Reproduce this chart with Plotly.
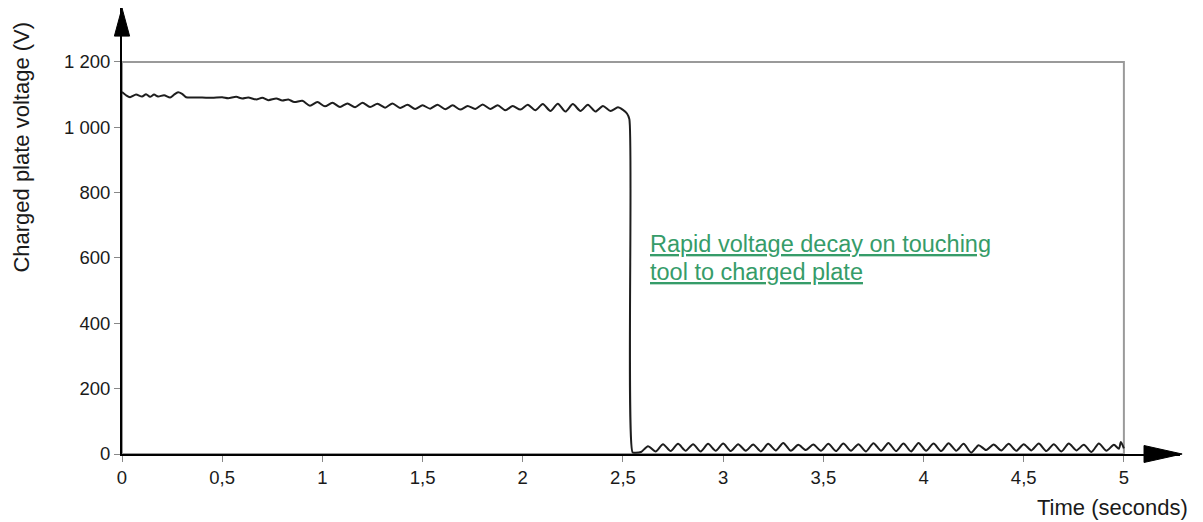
import plotly.graph_objects as go

# ---- data ----
time_s = [0.00, 0.02, 0.04, 0.07, 0.10, 0.12, 0.14, 0.16, 0.18, 0.21, 0.24, 0.26, 0.28, 0.30, 0.32,
          0.35, 0.40, 0.45, 0.50, 0.53, 0.57, 0.60, 0.63, 0.67, 0.70, 0.73, 0.77, 0.80, 0.83, 0.86,
          0.900, 0.938, 0.975, 1.013, 1.050, 1.088, 1.125, 1.163, 1.200, 1.238, 1.275, 1.313, 1.350,
          1.388, 1.425, 1.463, 1.500, 1.538, 1.575, 1.613, 1.650, 1.688, 1.725, 1.763, 1.800, 1.838,
          1.875, 1.913, 1.950, 1.988, 2.025, 2.063, 2.100, 2.138, 2.175, 2.213, 2.250, 2.288, 2.325,
          2.363, 2.400, 2.438, 2.475, 2.500, 2.520, 2.532, 2.548, 2.560, 2.590,
          2.625, 2.663, 2.700, 2.738, 2.775, 2.813, 2.850, 2.888, 2.925, 2.963, 3.000, 3.038, 3.075,
          3.113, 3.150, 3.188, 3.225, 3.263, 3.300, 3.338, 3.375, 3.413, 3.450, 3.488, 3.525, 3.563,
          3.600, 3.638, 3.675, 3.713, 3.750, 3.788, 3.825, 3.863, 3.900, 3.938, 3.975, 4.013, 4.050,
          4.088, 4.125, 4.163, 4.200, 4.238, 4.275, 4.313, 4.350, 4.388, 4.425, 4.463, 4.500, 4.538,
          4.575, 4.613, 4.650, 4.688, 4.725, 4.763, 4.800, 4.838, 4.875, 4.913, 4.950, 4.975, 4.985,
          5.000]
voltage_v = [1108, 1098, 1092, 1100, 1094, 1101, 1093, 1100, 1094, 1098, 1091, 1100, 1107, 1102, 1092,
             1091, 1091, 1090, 1092, 1089, 1093, 1088, 1091, 1085, 1090, 1083, 1088, 1082, 1085, 1077,
             1081, 1066, 1077, 1064, 1075, 1062, 1073, 1061, 1075, 1062, 1072, 1060, 1073,
             1059, 1069, 1056, 1067, 1057, 1069, 1055, 1067, 1054, 1065, 1056, 1070, 1056,
             1067, 1052, 1065, 1054, 1069, 1052, 1071, 1050, 1072, 1048, 1071, 1050, 1069,
             1048, 1065, 1050, 1061, 1053, 1042, 1025, 5, 4, 6,
             24, 8, 30, 9, 31, 10, 30, 8, 31, 10, 32, 9, 30,
             10, 29, 8, 31, 11, 34, 10, 28, 12, 29, 10, 31, 9,
             32, 10, 30, 8, 33, 10, 34, 9, 32, 8, 34, 10, 32,
             9, 33, 10, 31, 4, 27, 12, 29, 11, 31, 10, 30, 11,
             32, 9, 30, 8, 32, 11, 28, 6, 32, 10, 28, 16, 37,
             17]

x_ticks = [0, 0.5, 1, 1.5, 2, 2.5, 3, 3.5, 4, 4.5, 5]
x_tick_labels = ["0", "0,5", "1", "1,5", "2", "2,5", "3", "3,5", "4", "4,5", "5"]
y_ticks = [0, 200, 400, 600, 800, 1000, 1200]
y_tick_labels = ["0", "200", "400", "600", "800", "1 000", "1 200"]

FONT = "Liberation Sans, Arial, sans-serif"
GREEN = "#369c69"
TXT = "#1a1a1a"

fig = go.Figure()
fig.add_trace(go.Scatter(
    x=time_s, y=voltage_v, mode="lines",
    line=dict(color="#1e1e1e", width=2, shape="spline", smoothing=0.7),
    hoverinfo="x+y", showlegend=False,
))

# gray frame around the 0-5 s / 0-1200 V region
fig.add_shape(type="rect", xref="x", yref="y", x0=0, x1=5, y0=0, y1=1200,
              line=dict(color="#9a9a9a", width=2), layer="below")

# arrowheads on the axes (paper coordinates)
fig.add_shape(type="path", xref="paper", yref="paper",
              path="M 0.966,-0.019 L 1.002,0 L 0.966,0.019 Z",
              fillcolor="black", line=dict(color="black", width=1))
fig.add_shape(type="path", xref="paper", yref="paper",
              path="M -0.0072,0.937 L 0,1.0 L 0.0072,0.937 Z",
              fillcolor="black", line=dict(color="black", width=1))

fig.update_layout(
    width=1203, height=522,
    margin=dict(l=122, r=23, t=8, b=68),
    paper_bgcolor="white", plot_bgcolor="white",
    font=dict(family=FONT, size=18, color=TXT),
    xaxis=dict(range=[0, 5.28], tickvals=x_ticks, ticktext=x_tick_labels,
               showgrid=False, zeroline=False, showline=True, linecolor="black", linewidth=2,
               ticks="outside", ticklen=6, tickcolor="#888", tickwidth=1,
               tickfont=dict(size=18.5, family=FONT, color=TXT)),
    yaxis=dict(range=[0, 1365], tickvals=y_ticks, ticktext=y_tick_labels,
               showgrid=False, zeroline=False, showline=True, linecolor="black", linewidth=2,
               ticks="outside", ticklen=6, tickcolor="#888", tickwidth=1,
               tickfont=dict(size=18.5, family=FONT, color=TXT)),
    annotations=[
        dict(text="Charged plate voltage (V)", xref="paper", yref="paper",
             x=-0.0945, y=0.687, textangle=-90, showarrow=False,
             xanchor="center", yanchor="middle",
             font=dict(size=22, family=FONT, color=TXT)),
        dict(text="Time (seconds)", xref="paper", yref="paper",
             x=1.0095, y=-0.121, showarrow=False, xanchor="right", yanchor="middle",
             font=dict(size=22, family=FONT, color=TXT)),
        dict(text="<u>Rapid voltage decay on touching</u>", xref="x", yref="y",
             x=2.625, y=643, showarrow=False, xanchor="left", yanchor="middle",
             font=dict(size=23.5, family=FONT, color=GREEN)),
        dict(text="<u>tool to charged plate</u>", xref="x", yref="y",
             x=2.625, y=557, showarrow=False, xanchor="left", yanchor="middle",
             font=dict(size=23.5, family=FONT, color=GREEN)),
    ],
)

fig.write_html("out.html", config={"displayModeBar": False},
               post_script="document.body.style.margin='0';document.body.style.overflow='hidden';")
